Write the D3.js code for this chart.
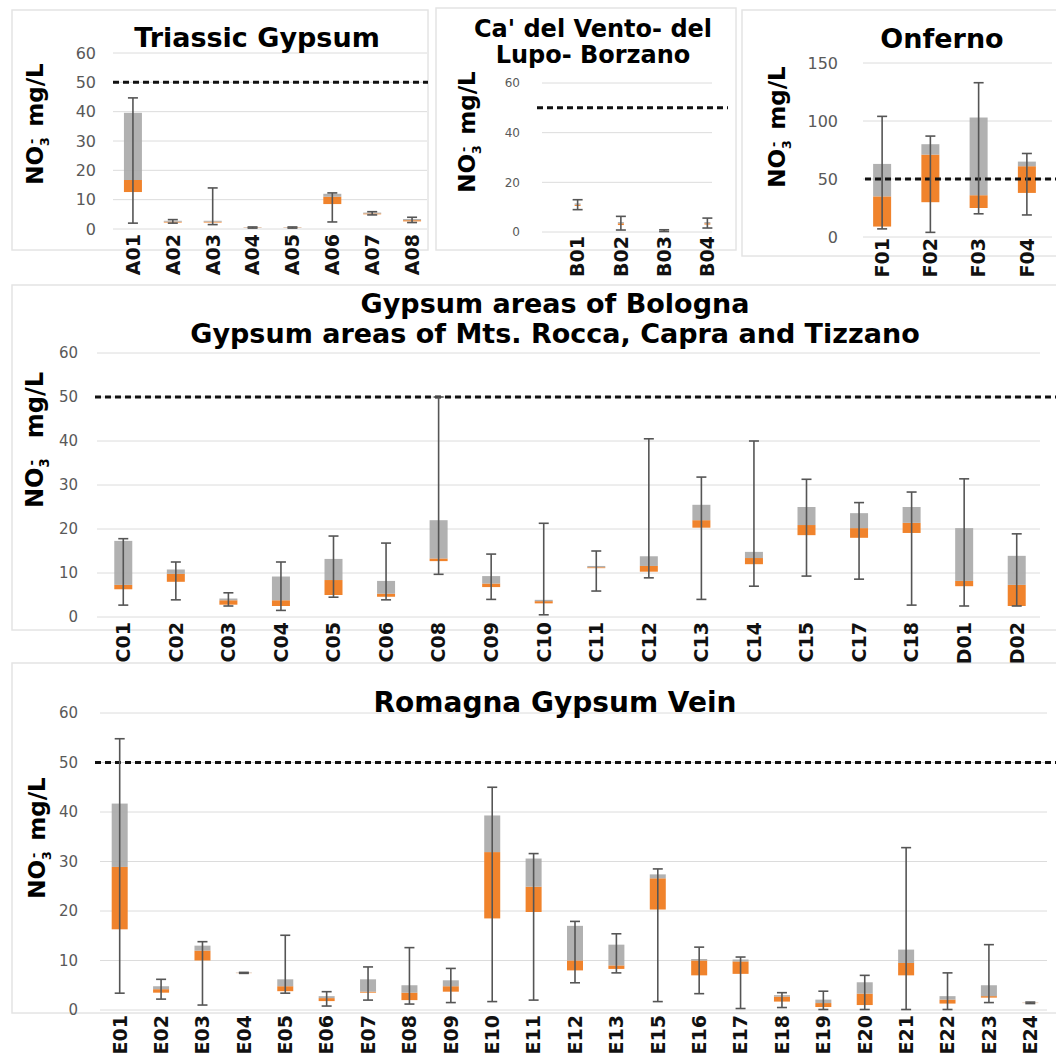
<!DOCTYPE html>
<html><head><meta charset="utf-8">
<script src="https://cdn.jsdelivr.net/npm/d3@7"></script>
<style>
html,body{margin:0;padding:0;background:#fff;}
svg{display:block;}
</style>
</head><body>
<svg id="chart" width="1056" height="1059"></svg>
<script>
// ---------- DATA ----------
const catsA = ["A01","A02","A03","A04","A05","A06","A07","A08"];
const minA  = [2, 2.0, 1.5, 0.3, 0.3, 2.4, 4.8, 2.2];
const q1A   = [12.6, 2.2, 2.2, 0.4, 0.4, 8.5, 5.0, 2.6];
const medA  = [16.7, 2.5, 2.5, 0.5, 0.5, 11.0, 5.3, 3.0];
const q3A   = [39.6, 2.8, 2.8, 0.6, 0.6, 12.0, 5.6, 3.4];
const maxA  = [44.7, 3.2, 14.0, 0.7, 0.7, 12.3, 5.9, 4.0];

const catsB = ["B01","B02","B03","B04"];
const minB  = [9.0, 0.8, 0.2, 1.6];
const q1B   = [10.5, 2.8, 0.3, 3.0];
const medB  = [11.0, 3.5, 0.5, 3.5];
const q3B   = [11.5, 4.0, 0.7, 4.0];
const maxB  = [13.0, 6.3, 0.9, 5.6];

const catsF = ["F01","F02","F03","F04"];
const minF  = [7, 4, 20, 19];
const q1F   = [9, 30, 25, 38];
const medF  = [35, 71, 36, 61];
const q3F   = [63, 80, 103, 65];
const maxF  = [104, 87, 133, 72];

const catsC = ["C01","C02","C03","C04","C05","C06","C08","C09","C10","C11","C12","C13","C14","C15","C17","C18","D01","D02"];
const minC  = [2.7, 3.9, 2.5, 1.5, 4.5, 3.9, 9.7, 4.0, 0.5, 5.9, 8.9, 4.0, 7.0, 9.3, 8.6, 2.7, 2.5, 2.5];
const q1C   = [6.3, 8.0, 2.8, 2.5, 5.0, 4.6, 12.7, 6.8, 3.1, 11.1, 10.3, 20.3, 12.0, 18.6, 18.0, 19.1, 7.0, 2.5];
const medC  = [7.3, 9.8, 3.8, 3.8, 8.4, 5.3, 13.3, 7.6, 3.6, 11.3, 11.6, 22.0, 13.4, 20.9, 20.2, 21.4, 8.2, 7.3];
const q3C   = [17.3, 10.8, 4.2, 9.2, 13.2, 8.2, 22.0, 9.3, 3.9, 11.6, 13.8, 25.5, 14.8, 25.0, 23.6, 25.0, 20.2, 13.9];
const maxC  = [17.8, 12.5, 5.5, 12.5, 18.4, 16.8, 50.0, 14.3, 21.3, 15.0, 40.5, 31.8, 40.0, 31.3, 26.0, 28.4, 31.4, 18.9];

const catsE = ["E01","E02","E03","E04","E05","E06","E07","E08","E09","E10","E11","E12","E13","E15","E16","E17","E18","E19","E20","E21","E22","E23","E24"];
const minE  = [3.4, 2.2, 1.0, 7.4, 3.4, 0.8, 2.0, 1.2, 1.5, 1.7, 2.0, 5.5, 7.5, 1.7, 3.3, 0.3, 0.5, 0.1, 0.1, 0.1, 0.1, 1.5, 1.3];
const q1E   = [16.3, 3.5, 10.0, 7.45, 3.8, 1.8, 3.5, 2.0, 3.7, 18.5, 19.8, 8.0, 8.3, 20.3, 7.0, 7.3, 1.7, 0.6, 1.0, 7.0, 1.3, 2.5, 1.4];
const medE  = [28.9, 4.2, 12.0, 7.5, 4.8, 2.4, 3.7, 3.5, 4.8, 31.9, 24.9, 10.0, 9.0, 26.6, 10.0, 9.8, 2.7, 1.4, 3.3, 9.5, 2.1, 2.8, 1.45];
const q3E   = [41.7, 4.8, 13.0, 7.55, 6.2, 2.8, 6.2, 5.0, 6.0, 39.3, 30.6, 17.0, 13.2, 27.4, 10.3, 10.2, 3.0, 2.1, 5.6, 12.2, 2.8, 5.0, 1.5];
const maxE  = [54.8, 6.2, 13.8, 7.6, 15.1, 3.7, 8.7, 12.6, 8.4, 45.0, 31.6, 17.9, 15.4, 28.5, 12.7, 10.7, 3.5, 3.8, 7.0, 32.8, 7.5, 13.2, 1.6];

const limitValue = 50;

// ---------- DRAW ----------
const svg = d3.select("#chart");
const FONT = "'DejaVu Sans', Verdana, sans-serif";
const ORANGE = "#F0832C", GRAY = "#A8A8A8", WHISK = "#555555", GRID = "#DCDCDC";

function frame(x, y, w, h) {
  svg.append("rect").attr("x", x).attr("y", y).attr("width", w).attr("height", h)
    .attr("fill", "none").attr("stroke", "#E4E4E4").attr("stroke-width", 1.5);
}

function panel(p) {
  const g = svg.append("g");
  const x = d3.scaleBand().domain(p.cats).range(p.xr).paddingInner(0).paddingOuter(0);
  const y = d3.scaleLinear().domain(p.yd).range(p.yr);
  const ticks = d3.range(p.yd[0], p.yd[1] + 0.001, p.step);

  g.append("g").selectAll("line").data(ticks).join("line")
    .attr("x1", p.gx[0]).attr("x2", p.gx[1])
    .attr("y1", d => y(d)).attr("y2", d => y(d))
    .attr("stroke", GRID).attr("stroke-width", 1);

  const ya = d3.axisLeft(y).tickValues(ticks).tickSize(0).tickPadding(0);
  const yg = g.append("g").attr("transform", `translate(${p.tickX},0)`).call(ya);
  yg.select(".domain").remove();
  yg.selectAll("text").attr("font-family", FONT).attr("font-size", p.tickFs)
    .attr("fill", "#595959");

  const xa = d3.axisBottom(x).tickSize(0).tickPadding(0);
  const xg = g.append("g").attr("transform", `translate(0,${p.labY})`).call(xa);
  xg.select(".domain").remove();
  xg.selectAll("text").attr("font-family", FONT).attr("font-size", p.catFs)
    .attr("font-weight", "bold").attr("fill", "#111")
    .attr("transform", "rotate(-90)").attr("text-anchor", "end")
    .attr("dy", "0.36em").attr("dx", 0).attr("y", 0).attr("x", 0);

  const rows = p.cats.map((c, i) => ({c, mn: p.mn[i], q1: p.q1[i], md: p.md[i], q3: p.q3[i], mx: p.mx[i]}));
  const bw = p.bw;
  const cx = d => x(d.c) + x.bandwidth() / 2;

  g.append("g").selectAll("rect").data(rows).join("rect")
    .attr("x", d => cx(d) - bw / 2).attr("width", bw)
    .attr("y", d => y(d.md)).attr("height", d => Math.max(0, y(d.q1) - y(d.md)))
    .attr("fill", ORANGE);
  g.append("g").selectAll("rect").data(rows).join("rect")
    .attr("x", d => cx(d) - bw / 2).attr("width", bw)
    .attr("y", d => y(d.q3)).attr("height", d => Math.max(0, y(d.md) - y(d.q3)))
    .attr("fill", GRAY).attr("fill-opacity", 0.9);

  g.append("line").attr("x1", p.dx[0]).attr("x2", p.dx[1])
    .attr("y1", y(limitValue)).attr("y2", y(limitValue))
    .attr("stroke", "#111").attr("stroke-width", 3).attr("stroke-dasharray", "6,4");

  const wg = g.append("g").attr("stroke", WHISK).attr("stroke-width", 1.6);
  wg.selectAll("line.v").data(rows).join("line").attr("class", "v")
    .attr("x1", cx).attr("x2", cx).attr("y1", d => y(d.mn)).attr("y2", d => y(d.mx));
  wg.selectAll("line.t").data(rows).join("line").attr("class", "t")
    .attr("x1", d => cx(d) - p.cap).attr("x2", d => cx(d) + p.cap)
    .attr("y1", d => y(d.mx)).attr("y2", d => y(d.mx));
  wg.selectAll("line.b").data(rows).join("line").attr("class", "b")
    .attr("x1", d => cx(d) - p.cap).attr("x2", d => cx(d) + p.cap)
    .attr("y1", d => y(d.mn)).attr("y2", d => y(d.mn));

  p.title.forEach((line, i) => {
    g.append("text").attr("font-family", FONT).attr("font-weight", "bold")
      .attr("font-size", p.titleFs).attr("fill", "#000").attr("text-anchor", "middle")
      .attr("x", p.titleX).attr("y", p.titleY + i * p.titleLh).text(line);
  });

  const yl = g.append("text").attr("font-family", FONT).attr("font-weight", "bold")
    .attr("font-size", p.ylFs).attr("fill", "#000").attr("text-anchor", "middle")
    .attr("transform", `translate(${p.ylX},${p.ylY}) rotate(-90)`);
  yl.append("tspan").text("NO");
  yl.append("tspan").attr("font-size", p.ylFs * 0.55).attr("dy", p.ylFs * 0.25).text("3");
  yl.append("tspan").attr("font-size", p.ylFs * 0.55).attr("dx", -p.ylFs * 0.3).attr("dy", -p.ylFs * 0.55).text("-");
  yl.append("tspan").attr("dy", p.ylFs * 0.3).attr("dx", p.ylGap).text("mg/L");
}

frame(12, 10, 416, 240);
frame(436, 8, 300, 242);
frame(742, 10, 320, 246);
frame(12, 285, 1050, 345);
frame(12, 663, 1050, 350);

panel({cats: catsA, mn: minA, q1: q1A, md: medA, q3: q3A, mx: maxA,
  xr: [113, 432], yd: [0, 60], yr: [229, 53], step: 10, gx: [113, 427], dx: [113, 428],
  tickX: 96, tickFs: 16, labY: 234, catFs: 19, bw: 18, cap: 5,
  title: ["Triassic Gypsum"], titleX: 257, titleY: 47, titleLh: 0, titleFs: 27,
  ylX: 43, ylY: 124, ylFs: 23, ylGap: 12});

panel({cats: catsB, mn: minB, q1: q1B, md: medB, q3: q3B, mx: maxB,
  xr: [556, 729], yd: [0, 60], yr: [232, 83], step: 20, gx: [542, 712], dx: [537, 728],
  tickX: 520, tickFs: 12, labY: 236, catFs: 19, bw: 6, cap: 5,
  title: ["Ca' del Vento- del", "Lupo- Borzano"], titleX: 593, titleY: 37, titleLh: 26, titleFs: 24,
  ylX: 475, ylY: 132, ylFs: 23, ylGap: 12});

panel({cats: catsF, mn: minF, q1: q1F, md: medF, q3: q3F, mx: maxF,
  xr: [858, 1051], yd: [0, 150], yr: [237, 63], step: 50, gx: [863, 1052], dx: [865, 1056],
  tickX: 838, tickFs: 16, labY: 238, catFs: 19, bw: 18, cap: 5,
  title: ["Onferno"], titleX: 942, titleY: 48, titleLh: 0, titleFs: 27,
  ylX: 785, ylY: 127, ylFs: 23, ylGap: 12});

panel({cats: catsC, mn: minC, q1: q1C, md: medC, q3: q3C, mx: maxC,
  xr: [97, 1043], yd: [0, 60], yr: [617, 353], step: 10, gx: [97, 1040], dx: [95, 1056],
  tickX: 78, tickFs: 15, labY: 622, catFs: 19, bw: 18, cap: 5,
  title: ["Gypsum areas of Bologna", "Gypsum areas of Mts. Rocca, Capra and Tizzano"], titleX: 555, titleY: 313, titleLh: 30, titleFs: 27,
  ylX: 43, ylY: 440, ylFs: 24, ylGap: 22});

panel({cats: catsE, mn: minE, q1: q1E, md: medE, q3: q3E, mx: maxE,
  xr: [99, 1051], yd: [0, 60], yr: [1010, 713], step: 10, gx: [100, 1047], dx: [95, 1056],
  tickX: 78, tickFs: 15, labY: 1015, catFs: 19, bw: 16, cap: 5,
  title: ["Romagna Gypsum Vein"], titleX: 555, titleY: 712, titleLh: 0, titleFs: 28,
  ylX: 45, ylY: 838, ylFs: 23, ylGap: 12});
</script>
</body></html>
